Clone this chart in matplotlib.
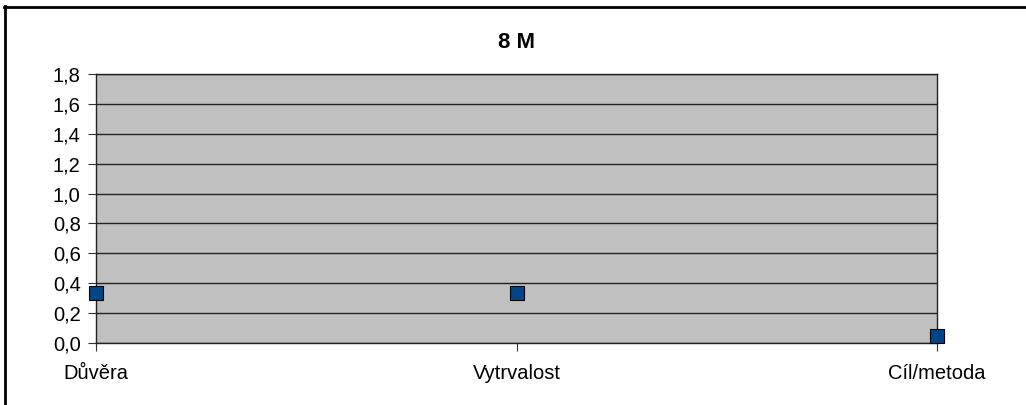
import matplotlib
matplotlib.use("Agg")
import matplotlib.pyplot as plt
from matplotlib.lines import Line2D

plt.rcParams['font.family'] = ['Liberation Sans', 'DejaVu Sans']

title = "8 M"
categories = ["Důvěra", "Vytrvalost", "Cíl/metoda"]
values = [0.333, 0.333, 0.05]
yticks = [0.0, 0.2, 0.4, 0.6, 0.8, 1.0, 1.2, 1.4, 1.6, 1.8]

W, H = 1026, 405
fig = plt.figure(figsize=(W / 100, H / 100), dpi=100)
ax = fig.add_axes([96 / W, 1 - 343 / H, (937 - 96) / W, (343 - 74) / H])
ax.set_facecolor('#c0c0c0')

x = list(range(len(categories)))
ax.plot(x, values, linestyle='none', marker='s', markersize=10,
        markerfacecolor='#004586', markeredgecolor='black', markeredgewidth=0.8,
        clip_on=False, zorder=5)

ax.set_xlim(0, len(categories) - 1)
ax.set_ylim(0, 1.8)
ax.set_yticks(yticks)
ax.set_yticklabels([f"{v:.1f}".replace('.', ',') for v in yticks])
ax.set_xticks(x)
ax.set_xticklabels(categories)
ax.tick_params(axis='both', direction='out', length=6, width=0.8, colors='#333333',
               labelcolor='black', labelsize=14.5)
ax.tick_params(axis='x', pad=9)
ax.tick_params(axis='y', pad=5)
ax.grid(axis='y', color='#222222', linewidth=1.0)
ax.set_axisbelow(True)
for s in ax.spines.values():
    s.set_color('#222222')
    s.set_linewidth(1.0)

fig.text(517 / W, 1 - 43 / H, title, ha='center', va='center',
         fontsize=16, fontweight='bold')

# outer frame (left and top edges visible)
fig.add_artist(Line2D([5 / W, 5 / W], [0, 1 - 6 / H], transform=fig.transFigure,
                      color='black', linewidth=2))
fig.add_artist(Line2D([4 / W, 1], [1 - 6.5 / H, 1 - 6.5 / H], transform=fig.transFigure,
                      color='black', linewidth=2))

fig.savefig("out.png", dpi=100)
